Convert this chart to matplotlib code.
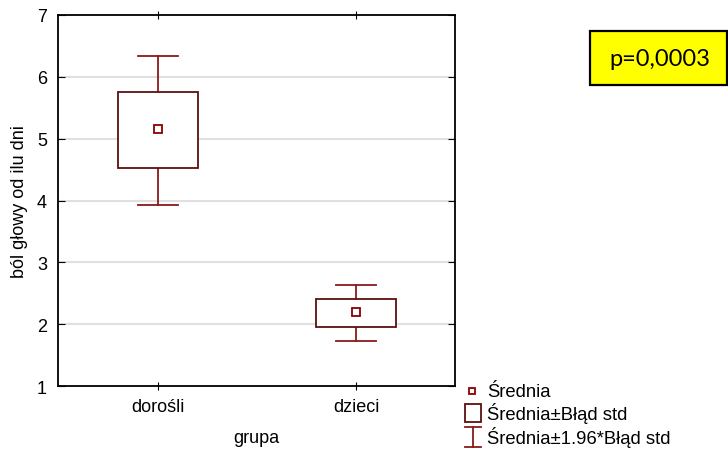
import matplotlib
matplotlib.use("Agg")
import matplotlib.pyplot as plt
from matplotlib.patches import Rectangle
from matplotlib.lines import Line2D

# ---- data ----
groups = ["dorośli", "dzieci"]
means = [5.15, 2.19]
se_low = [4.52, 1.95]
se_high = [5.75, 2.41]
ci_low = [3.93, 1.72]
ci_high = [6.34, 2.63]
y_ticks = [1, 2, 3, 4, 5, 6, 7]
x_label = "grupa"
y_label = "ból głowy od ilu dni"
p_text = "p=0,0003"
legend_labels = ["Średnia", "Średnia±Błąd std", "Średnia±1.96*Błąd std"]

plt.rcParams['font.family'] = ['Liberation Sans', 'DejaVu Sans']

W, H = 728, 452
fig = plt.figure(figsize=(W / 100, H / 100), dpi=100)
ax = fig.add_axes([58 / W, 1 - 387 / H, (455 - 58) / W, (387 - 16) / H])

box_col = "#5c0f0f"
wh_col = "#8b1a1a"
mean_col = "#8b0000"

xs = list(range(len(groups)))
for i, x in enumerate(xs):
    ax.plot([x, x], [se_high[i], ci_high[i]], color=wh_col, lw=1.3, zorder=2)
    ax.plot([x, x], [ci_low[i], se_low[i]], color=wh_col, lw=1.3, zorder=2)
    ax.plot([x - 0.1, x + 0.1], [ci_high[i], ci_high[i]], color=wh_col, lw=1.3, zorder=2)
    ax.plot([x - 0.1, x + 0.1], [ci_low[i], ci_low[i]], color=wh_col, lw=1.3, zorder=2)
    ax.add_patch(Rectangle((x - 0.2, se_low[i]), 0.4, se_high[i] - se_low[i],
                           facecolor="white", edgecolor=box_col, lw=1.3, zorder=3))
ax.plot(xs, means, linestyle="none", marker="s", markersize=5.5,
        markerfacecolor="white", markeredgecolor=mean_col, markeredgewidth=1.3, zorder=4)

ax.set_xlim(-0.505, 1.5)
ax.set_ylim(1, 7)
ax.set_yticks(y_ticks)
ax.set_xticks(xs)
ax.set_xticklabels(groups)
for yv in y_ticks[1:-1]:
    ax.axhline(yv, color="#e0e0e0", lw=1.5, zorder=0)

ax.tick_params(axis="y", which="both", direction="in", length=5, left=True, right=True,
               labelsize=13, pad=8, color="black")
ax.tick_params(axis="x", direction="inout", length=6, top=True, labelsize=13, pad=6)
for s in ax.spines.values():
    s.set_linewidth(1.3)
    s.set_color("black")

ax.set_xlabel(x_label, fontsize=13, labelpad=10)
ax.set_ylabel(y_label, fontsize=13, labelpad=6)

# p-value box
fig.patches.append(Rectangle((590 / W, 1 - 86 / H), (727 - 590) / W, (86 - 32) / H,
                             transform=fig.transFigure, facecolor="#ffff00",
                             edgecolor="black", lw=1.6, figure=fig))
fig.text(660 / W, 1 - 60 / H, p_text, fontsize=17, ha="center", va="center",
         family=["Lato", "DejaVu Sans"])

def fx(px):
    return px / W

def fy(py):
    return 1 - py / H

fig.add_artist(Line2D([fx(472)], [fy(392)], marker="s", markersize=5,
                      markerfacecolor="white", markeredgecolor=mean_col, markeredgewidth=1.3,
                      linestyle="none", transform=fig.transFigure))
fig.patches.append(Rectangle((fx(465), fy(423)), (481 - 465) / W, (423 - 405) / H,
                             transform=fig.transFigure, facecolor="white",
                             edgecolor=box_col, lw=1.3, figure=fig))
fig.add_artist(Line2D([fx(473), fx(473)], [fy(428), fy(448)], color=wh_col, lw=1.3,
                      transform=fig.transFigure))
fig.add_artist(Line2D([fx(465), fx(481)], [fy(428), fy(428)], color=wh_col, lw=1.3,
                      transform=fig.transFigure))
fig.add_artist(Line2D([fx(465), fx(481)], [fy(448), fy(448)], color=wh_col, lw=1.3,
                      transform=fig.transFigure))
for lbl, py in zip(legend_labels, [393, 414, 438]):
    fig.text(fx(487), fy(py), lbl, fontsize=13.3, ha="left", va="center")

fig.savefig("out.png", dpi=100)
